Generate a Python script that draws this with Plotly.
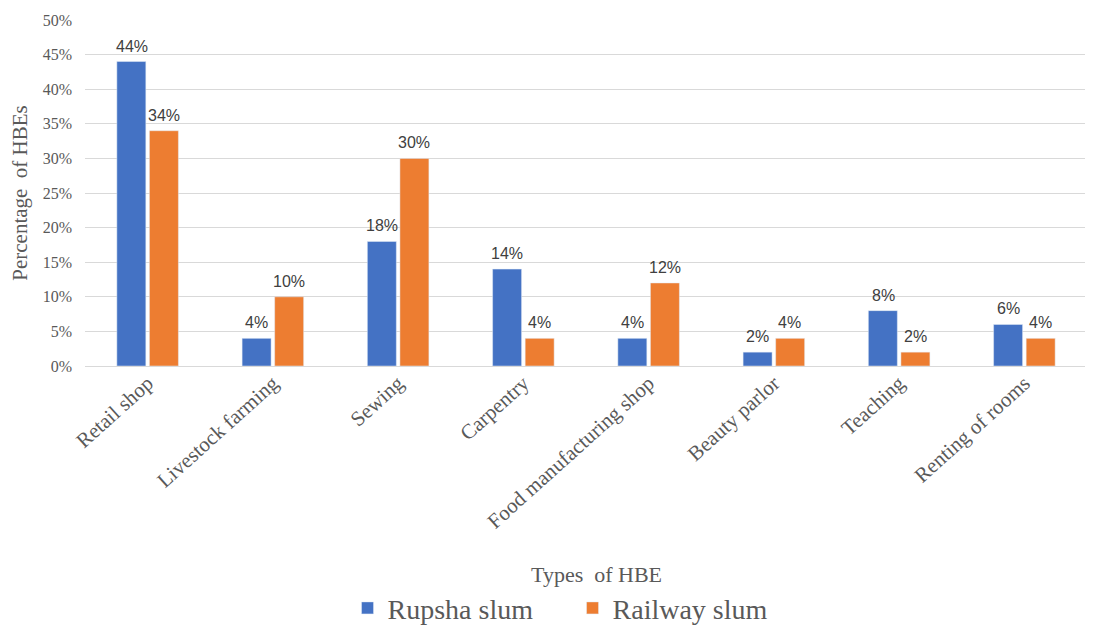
import plotly.graph_objects as go

categories = ["Retail shop", "Livestock farming", "Sewing", "Carpentry",
              "Food manufacturing shop", "Beauty parlor", "Teaching", "Renting of rooms"]
rupsha = [44, 4, 18, 14, 4, 2, 8, 6]
railway = [34, 10, 30, 4, 12, 4, 2, 4]
y_ticks = [0, 5, 10, 15, 20, 25, 30, 35, 40, 45, 50]

serif = "Liberation Serif"
gray = "#595959"
label_font = dict(family="Liberation Sans", size=16, color="#404040")

fig = go.Figure()
fig.add_trace(go.Bar(name="Rupsha slum", x=categories, y=rupsha,
                     marker=dict(color="#4472C4")))
fig.add_trace(go.Bar(name="Railway slum", x=categories, y=railway,
                     marker=dict(color="#ED7D31")))

annotations = []
for series, shift in ((rupsha, -16), (railway, 16)):
    for cat, v in zip(categories, series):
        annotations.append(dict(x=cat, y=v, xref="x", yref="y", text=f"{v}%",
                                showarrow=False, xanchor="center", yanchor="bottom",
                                xshift=shift, yshift=5, font=label_font))
annotations.append(dict(text="Types  of HBE", x=0.51, y=-0.604, xref="paper", yref="paper",
                        showarrow=False, xanchor="center", yanchor="middle",
                        font=dict(family=serif, size=22, color=gray)))

fig.update_layout(
    width=1085, height=619,
    margin=dict(l=77, r=6, t=12, b=261, autoexpand=False),
    paper_bgcolor="white", plot_bgcolor="white",
    barmode="group", bargap=0.48, bargroupgap=0.11,
    font=dict(family=serif, color=gray),
    legend=dict(orientation="h", x=0.262, xanchor="left", y=-0.70, yanchor="middle",
                font=dict(family=serif, size=28, color=gray), itemwidth=30,
                entrywidth=180, traceorder="normal"),
    xaxis=dict(tickangle=-42, tickfont=dict(family=serif, size=21, color=gray),
               showgrid=False, showline=False, ticks="", automargin=False),
    yaxis=dict(range=[0, 50], tickvals=y_ticks, ticktext=[f"{v}%" for v in y_ticks],
               tickfont=dict(family=serif, size=16, color=gray),
               showgrid=True, gridcolor="#D9D9D9", gridwidth=1,
               zeroline=True, zerolinecolor="#D9D9D9", zerolinewidth=1,
               ticks="", ticklabelstandoff=12, automargin=False,
               title=dict(text="Percentage  of HBEs", font=dict(family=serif, size=21, color=gray),
                          standoff=14)),
    annotations=annotations,
)

fig.write_html("out.html")
